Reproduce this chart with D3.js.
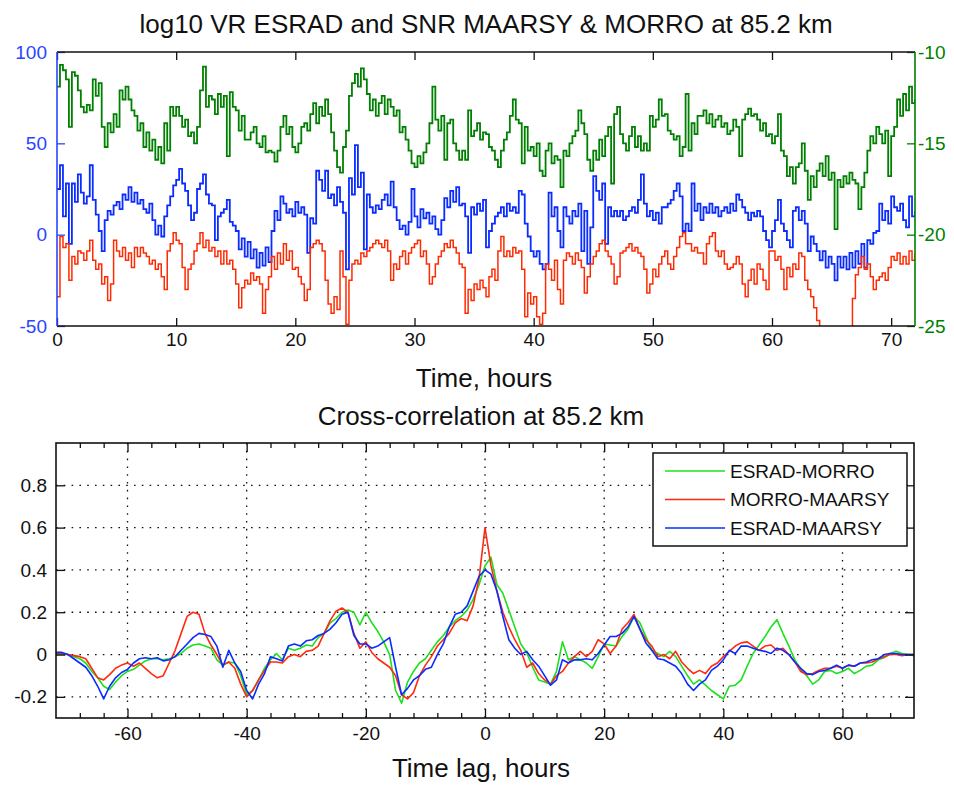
<!DOCTYPE html>
<html>
<head>
<meta charset="utf-8">
<script src="https://cdn.jsdelivr.net/npm/d3@7"></script>
<style>
  body { margin: 0; background: #fff; }
  svg { display: block; font-family: "Liberation Sans", Arial, sans-serif; }
</style>
</head>
<body>
<svg id="chart" width="954" height="787"></svg>
<script>
// ---- data: top panel, one sample every 15 minutes, 0..72 h ----
const timeStep = 0.25;

// blue series, left axis
const blueTop = [
  25, 38, 10, 28,  -5, 28, 18, 33,  23, 17, 21, 38,  19, 11, 2, -9,
  8, 13, 11, 16,  18, 14, 22, 19,  26, 18, 23, 17,  19, 14, 12, 17,
  8, 0, 5, -1,  10, 16, 21, 27,  30, 36, 28, 24,  16, 8, 12, 25,
  28, 33, 22, 17,  16, -3, 10, 12,  14, 19, 7, 5,  2, -8, -2, -12,
  -4, -13, -8, -18,  -10, -17, -7, -15,  2, 13, 8, 21,  17, 12, 14, 10,
  18, 12, 15, 11,  -10, 9, 6, 35,  30, 24, 35, 20,  22, 16, 26, 18,
  12, -19, 31, 22,  49, 26, 34, -8,  22, 15, 12, 16,  14, 19, 22, 16,
  29, 15, 8, 3,  5, 0, 7, 25,  10, 4, 14, 9,  12, 6, 10, 3,
  0, 8, 20, 15,  24, 18, 26, 16,  17, 10, -10, 15,  11, 17, 13, 19,
  -7, 2, 6, 10,  12, 15, 10, 17,  13, 15, 12, 24,  22, 6, -1, -9,
  -12, -9, -16, -19,  -16, 23, 10, 15,  2, -7, 15, 10,  6, 13, 10, 17,
  -9, 13, -16, 4,  32, 24, 19, 28,  -5, 15, 10, 13,  10, 13, 8, 10,
  13, 15, 12, 19,  33, 17, 10, 13,  8, 12, 6, 15,  15, 17, 19, 24,
  28, 21, 2, 6,  2, 28, 13, 17,  8, 15, 12, 17,  12, 15, 10, 13,
  15, 12, 17, 13,  22, 19, 15, 12,  8, 12, 10, 13,  10, 2, -3, -7,
  2, 8, 19, 6,  2, -3, -7, 13,  15, 8, 13, 6,  -9, -1, -5, -9,
  -14, -9, -18, -12,  -16, -25, -12, -18,  -12, -19, -10, -18,  -9, -16, -5, -18,
  -3, -5, 1, 2,  17, 8, 13, 6,  21, 15, 13, 17,  8, 4, 21, 10,
  13
];

// red series, left axis
const redTop = [
  -34, -1, -7, -5,  -25, -12, -16, -9,  -10, -14, -9, -3,  -14, -19, -16, -27,
  -23, -36, -27, -3,  -9, -12, -7, -14,  -10, -18, -7, -12,  -7, -10, -12, -16,
  -14, -19, -16, -23,  -30, -9, -5, 1,  -3, -5, -18, -30,  -19, -16, -9, -5,
  1, -7, -3, -9,  -7, -12, -9, -16,  -9, -16, -14, -19,  -27, -40, -29, -25,
  -27, -21, -25, -23,  -27, -43, -30, -23,  -12, -19, -10, -16,  -5, -14, -9, -19,
  -18, -23, -27, -36,  -30, -7, -5, -3,  -5, -9, -25, -38,  -43, -34, -41, -9,
  -23, -49, -25, -16,  -14, -16, -10, -12,  -9, -7, -5, -3,  -5, -7, -3, -9,
  -25, -16, -19, -12,  -9, -16, -10, -7,  -5, -3, -12, -9,  -16, -27, -23, -16,
  -12, -9, -5, -7,  -3, -7, -10, -16,  -18, -43, -30, -36,  -27, -30, -25, -29,
  -34, -23, -19, -25,  -9, -1, -12, -9,  -12, -7, -10, -9,  -19, -45, -32, -38,
  -34, -45, -49, -43,  -16, -19, -25, -14,  -30, -38, -14, -10,  -12, -16, -10, -14,
  -18, -32, -23, -16,  -12, -9, -5, -3,  -9, -12, -16, -27,  -23, -10, -9, -7,
  -5, -9, -7, -10,  -12, -19, -32, -27,  -19, -23, -16, -12,  -9, -16, -19, -12,
  -7, -1, 1, -5,  -5, -9, -7, -10,  -10, -16, -5, -1,  1, -9, -12, -9,
  -16, -19, -18, -16,  -12, -16, -27, -34,  -25, -19, -27, -16,  -19, -25, -30, -9,
  -9, -14, -12, -19,  -30, -18, -23, -16,  -19, -10, -12, -25,  -30, -34, -40, -47,
  -52, -56, -60, -58,  -61, -63, -60, -58,  -58, -60, -52, -35,  -22, -18, -12, -19,
  -16, -23, -30, -25,  -23, -21, -25, -18,  -12, -14, -10, -16,  -12, -16, -9, -14,
  -10
];

// green series, right axis (dB)
const greenTop = [
  -11.9, -10.7, -11.0, -11.5,  -14.1, -11.1, -11.3, -12.1,  -13.0, -13.3, -12.9, -13.2,  -11.5, -12.4, -11.7, -14.1,
  -15.2, -13.9, -14.4, -13.4,  -14.1, -12.1, -12.6, -11.9,  -12.6, -13.2, -13.5, -14.3,  -13.9, -15.2, -14.4, -15.4,
  -14.8, -15.9, -15.2, -16.1,  -13.9, -15.4, -13.0, -13.5,  -13.0, -13.5, -14.1, -13.7,  -14.6, -14.4, -15.0, -14.1,
  -12.1, -10.8, -13.0, -12.4,  -12.6, -13.4, -12.3, -13.0,  -12.4, -15.7, -12.2, -13.0,  -13.2, -14.3, -13.5, -14.8,
  -14.8, -14.4, -14.1, -15.0,  -15.2, -14.6, -15.5, -15.4,  -15.5, -16.0, -15.4, -14.1,  -13.5, -14.5, -14.1, -15.2,
  -15.5, -15.0, -14.1, -13.9,  -14.3, -13.4, -12.8, -13.9,  -13.0, -13.5, -12.6, -13.4,  -14.4, -15.4, -16.3, -16.6,
  -15.2, -14.3, -12.4, -11.7,  -11.2, -11.9, -10.9, -11.5,  -12.3, -13.2, -12.6, -13.5,  -12.8, -12.4, -13.4, -12.6,
  -13.0, -13.5, -13.2, -14.4,  -14.1, -14.8, -15.4, -16.1,  -16.3, -15.7, -16.1, -15.5,  -15.0, -13.9, -11.9, -13.7,
  -14.3, -13.5, -15.9, -13.9,  -13.7, -15.0, -15.4, -15.9,  -15.4, -15.9, -13.2, -14.6,  -14.3, -13.9, -14.8, -14.4,
  -14.5, -15.2, -15.4, -15.9,  -16.3, -15.4, -14.8, -14.4,  -13.5, -12.6, -13.7, -13.9,  -16.1, -14.1, -15.4, -15.2,
  -15.7, -15.0, -16.5, -16.8,  -15.4, -15.0, -16.1, -15.7,  -15.9, -17.4, -15.4, -15.7,  -15.0, -14.6, -14.3, -13.2,
  -13.9, -14.5, -15.9, -16.5,  -15.4, -15.9, -14.8, -15.7,  -14.6, -14.1, -17.2, -13.4,  -13.0, -14.5, -15.0, -15.4,
  -14.6, -14.1, -15.2, -14.6,  -15.4, -15.0, -15.4, -13.5,  -14.1, -13.7, -12.6, -13.5,  -13.4, -14.3, -14.5, -14.8,
  -14.6, -15.7, -15.2, -12.3,  -15.4, -13.9, -14.5, -13.5,  -13.5, -13.2, -13.9, -13.4,  -14.1, -13.7, -13.5, -14.1,
  -13.9, -14.5, -14.3, -13.7,  -14.1, -15.7, -13.7, -13.4,  -13.1, -13.5, -13.4, -13.7,  -14.3, -13.9, -14.6, -14.5,
  -15.0, -14.6, -13.4, -15.4,  -15.7, -16.8, -16.3, -17.2,  -16.3, -16.1, -15.0, -16.5,  -18.1, -16.8, -17.4, -16.5,
  -16.1, -16.8, -15.7, -17.0,  -16.6, -19.7, -17.0, -17.4,  -16.8, -17.2, -16.6, -17.0,  -17.2, -18.6, -17.4, -16.6,
  -15.4, -14.6, -15.0, -14.1,  -14.5, -15.0, -14.3, -16.8,  -14.6, -14.1, -12.6, -13.5,  -12.3, -13.2, -11.9, -12.8,
  -12.6
];

const topXTicks = [0, 10, 20, 30, 40, 50, 60, 70];
const leftTicks = [-50, 0, 50, 100];
const rightTicks = [-25, -20, -15, -10];

// ---- data: bottom panel, lag -72..72 h, one value per hour ----
const lagStart = -72;
const ccEsradMorro = [
  0.00, 0.00, 0.00, -0.01, -0.02, -0.04, -0.08, -0.11, -0.15, -0.165,
  -0.13, -0.10, -0.08, -0.07, -0.05, -0.03, -0.02, -0.02, -0.025, -0.02,
  -0.01, 0.005, 0.03, 0.045, 0.05, 0.04, 0.03, -0.025, -0.05, -0.035,
  -0.04, -0.10, -0.19, -0.17, -0.12, -0.065, -0.025, 0.005, -0.025, 0.03,
  0.02, 0.03, 0.045, 0.04, 0.08, 0.10, 0.15, 0.17, 0.20, 0.21,
  0.20, 0.14, 0.20, 0.15, 0.11, 0.06, 0.00, -0.17, -0.23, -0.13,
  -0.08, -0.04, -0.02, 0.02, 0.06, 0.09, 0.13, 0.16, 0.18, 0.21,
  0.26, 0.33, 0.42, 0.46, 0.33, 0.29, 0.21, 0.13, 0.05, 0.01,
  -0.06, -0.12, -0.13, -0.14, -0.08, 0.06, -0.025, -0.01, -0.025, -0.04,
  -0.065, -0.01, 0.05, 0.045, 0.04, 0.085, 0.12, 0.18, 0.15, 0.085,
  0.02, 0.005, -0.01, 0.015, -0.01, -0.055, -0.10, -0.14, -0.12, -0.145,
  -0.17, -0.19, -0.21, -0.15, -0.145, -0.12, -0.055, 0.005, 0.045, 0.085,
  0.13, 0.165, 0.10, 0.04, -0.025, -0.07, -0.10, -0.14, -0.12, -0.08,
  -0.075, -0.09, -0.08, -0.065, -0.09, -0.075, -0.055, -0.05, -0.025, -0.015,
  0.005, 0.015, 0.005, 0.00, -0.005
];
const ccMorroMaarsy = [
  0.005, 0.005, 0.00, -0.005, -0.01, -0.02, -0.065, -0.11, -0.12, -0.095,
  -0.065, -0.05, -0.04, -0.055, -0.04, -0.065, -0.09, -0.11, -0.10, -0.04,
  0.02, 0.10, 0.18, 0.20, 0.19, 0.10, 0.045, 0.00, -0.05, -0.035,
  -0.065, -0.14, -0.20, -0.17, -0.12, -0.075, -0.035, -0.035, -0.04, -0.01,
  0.00, -0.01, 0.015, 0.02, 0.04, 0.10, 0.16, 0.205, 0.22, 0.20,
  0.10, 0.03, 0.06, 0.01, -0.02, -0.04, -0.06, -0.10, -0.19, -0.21,
  -0.18, -0.10, -0.05, -0.01, 0.04, 0.07, 0.10, 0.15, 0.17, 0.16,
  0.23, 0.36, 0.60, 0.42, 0.30, 0.20, 0.13, 0.07, 0.02, -0.06,
  -0.04, -0.09, -0.12, -0.14, -0.10, -0.08, -0.04, -0.01, 0.015, -0.01,
  0.015, 0.07, 0.05, 0.005, 0.04, 0.12, 0.15, 0.19, 0.12, 0.07,
  0.04, -0.01, 0.00, -0.02, 0.015, -0.035, -0.065, -0.09, -0.075, -0.09,
  -0.055, -0.04, -0.01, 0.015, 0.04, 0.055, 0.06, 0.04, 0.02, 0.04,
  0.045, 0.02, 0.03, 0.00, -0.035, -0.08, -0.095, -0.09, -0.075, -0.065,
  -0.065, -0.055, -0.065, -0.05, -0.055, -0.04, -0.04, -0.035, -0.02, -0.01,
  0.00, 0.00, -0.005, 0.00, 0.00
];
const ccEsradMaarsy = [
  0.01, 0.01, 0.00, -0.02, -0.04, -0.06, -0.10, -0.15, -0.21, -0.15,
  -0.11, -0.085, -0.07, -0.04, -0.02, -0.015, -0.02, -0.015, -0.03, -0.025,
  -0.01, 0.02, 0.05, 0.08, 0.10, 0.095, 0.085, 0.04, -0.06, 0.02,
  -0.04, -0.08, -0.17, -0.21, -0.14, -0.09, -0.01, -0.02, -0.03, 0.04,
  0.05, 0.04, 0.065, 0.07, 0.09, 0.10, 0.12, 0.15, 0.19, 0.20,
  0.09, 0.05, 0.05, 0.03, 0.04, 0.06, 0.08, -0.06, -0.19, -0.16,
  -0.12, -0.10, -0.07, -0.06, 0.00, 0.05, 0.13, 0.19, 0.20, 0.23,
  0.30, 0.37, 0.40, 0.38, 0.30, 0.18, 0.07, 0.03, 0.00, 0.015,
  -0.025, -0.055, -0.10, -0.145, -0.12, -0.025, -0.04, -0.025, -0.025, -0.02,
  -0.025, 0.005, 0.045, 0.085, 0.085, 0.10, 0.13, 0.18, 0.12, 0.055,
  0.02, -0.02, -0.025, -0.04, -0.055, -0.09, -0.14, -0.17, -0.14, -0.12,
  -0.075, -0.055, -0.025, 0.02, 0.005, 0.04, 0.04, 0.03, 0.02, 0.015,
  0.005, 0.03, 0.02, 0.00, -0.035, -0.065, -0.09, -0.095, -0.08, -0.075,
  -0.065, -0.05, -0.065, -0.05, -0.055, -0.04, -0.035, -0.025, -0.02, 0.00,
  0.005, 0.005, 0.00, 0.00, 0.00
];

const ccXTicks = [-60, -40, -20, 0, 20, 40, 60];
const ccYTicks = [-0.2, 0, 0.2, 0.4, 0.6, 0.8];
const ccLegend = ['ESRAD-MORRO', 'MORRO-MAARSY', 'ESRAD-MAARSY'];

const blueCol = '#0a2cff', redCol = '#ff2a00', darkGreen = '#008000';
const ccColors = ['#1ee01e', '#ff2a10', '#0a2cff'];

const svg = d3.select('#chart');

function styleAxis(g, color, size) {
  g.selectAll('.domain').remove();
  g.selectAll('.tick line').attr('stroke', color).attr('stroke-width', 1.3);
  g.selectAll('.tick text').attr('fill', color).attr('font-size', size);
}

function renderTopPanel() {
  const box = {left: 57, right: 915, top: 52, bottom: 326};
  const x = d3.scaleLinear().domain([0, 72]).range([box.left, box.right]);
  const yL = d3.scaleLinear().domain([-50, 100]).range([box.bottom, box.top]);
  const yR = d3.scaleLinear().domain([-25, -10]).range([box.bottom, box.top]);

  svg.append('clipPath').attr('id', 'clipTop')
    .append('rect')
    .attr('x', box.left).attr('y', box.top)
    .attr('width', box.right - box.left).attr('height', box.bottom - box.top);

  const lineL = d3.line().x((d, i) => x(i * timeStep)).y(d => yL(d)).curve(d3.curveStepAfter);
  const lineR = d3.line().x((d, i) => x(i * timeStep)).y(d => yR(d)).curve(d3.curveStepAfter);

  const plot = svg.append('g').attr('clip-path', 'url(#clipTop)');
  plot.append('path').datum(blueTop).attr('d', lineL)
    .attr('fill', 'none').attr('stroke', blueCol).attr('stroke-width', 1.8);
  plot.append('path').datum(redTop).attr('d', lineL)
    .attr('fill', 'none').attr('stroke', redCol).attr('stroke-width', 1.5);
  plot.append('path').datum(greenTop).attr('d', lineR)
    .attr('fill', 'none').attr('stroke', darkGreen).attr('stroke-width', 1.8);

  // Axes (ticks point inward)
  svg.append('g').attr('transform', `translate(0,${box.bottom})`)
    .call(d3.axisBottom(x).tickValues(topXTicks).tickSize(-8).tickPadding(7).tickFormat(String))
    .call(g => styleAxis(g, '#111', '19px'));
  svg.append('g').attr('transform', `translate(0,${box.top})`)
    .call(d3.axisTop(x).tickValues(topXTicks).tickSize(-8).tickFormat(''))
    .call(g => styleAxis(g, '#111', '19px'));
  svg.append('g').attr('transform', `translate(${box.left},0)`)
    .call(d3.axisLeft(yL).tickValues(leftTicks).tickSize(-8).tickPadding(10).tickFormat(String))
    .call(g => styleAxis(g, '#2a45ff', '19px'));
  svg.append('g').attr('transform', `translate(${box.right},0)`)
    .call(d3.axisRight(yR).tickValues(rightTicks).tickSize(-8).tickPadding(3).tickFormat(String))
    .call(g => styleAxis(g, darkGreen, '19px'));

  // Frame
  const frame = svg.append('g').attr('stroke-width', 1.6).attr('fill', 'none');
  frame.append('line').attr('x1', box.left).attr('x2', box.right).attr('y1', box.top).attr('y2', box.top).attr('stroke', '#111');
  frame.append('line').attr('x1', box.left).attr('x2', box.right).attr('y1', box.bottom).attr('y2', box.bottom).attr('stroke', '#111');
  frame.append('line').attr('x1', box.left).attr('x2', box.left).attr('y1', box.top).attr('y2', box.bottom).attr('stroke', '#2a45ff');
  frame.append('line').attr('x1', box.right).attr('x2', box.right).attr('y1', box.top).attr('y2', box.bottom).attr('stroke', darkGreen);

  svg.append('text').attr('x', 486).attr('y', 33).attr('text-anchor', 'middle')
    .attr('font-size', '26px').attr('fill', '#111')
    .text('log10 VR ESRAD and SNR MAARSY & MORRO at 85.2 km');
  svg.append('text').attr('x', 484).attr('y', 387).attr('text-anchor', 'middle')
    .attr('font-size', '26px').attr('fill', '#111')
    .text('Time, hours');
}

function renderBottomPanel() {
  const box = {left: 56, right: 914, top: 443, bottom: 718};
  const x = d3.scaleLinear().domain([-72, 72]).range([box.left, box.right]);
  const y = d3.scaleLinear().domain([-0.3, 1.0]).range([box.bottom, box.top]);
  const minorTicks = d3.range(-68, 72, 4).filter(v => v % 20 !== 0);

  // Grid lines (dotted)
  const grid = svg.append('g').attr('stroke', '#111').attr('stroke-width', 1.3).attr('stroke-dasharray', '1.6,6.2');
  grid.selectAll('.vg').data(ccXTicks).enter().append('line')
    .attr('x1', d => x(d)).attr('x2', d => x(d)).attr('y1', box.top).attr('y2', box.bottom);
  grid.selectAll('.hg').data(ccYTicks).enter().append('line')
    .attr('x1', box.left).attr('x2', box.right).attr('y1', d => y(d)).attr('y2', d => y(d));

  // Lines
  const line = d3.line().x((d, i) => x(lagStart + i)).y(d => y(d));
  [ccEsradMorro, ccMorroMaarsy, ccEsradMaarsy].forEach((s, k) => {
    svg.append('path').datum(s).attr('d', line)
      .attr('fill', 'none').attr('stroke', ccColors[k]).attr('stroke-width', 1.6)
      .attr('stroke-linejoin', 'round');
  });

  // Axes
  svg.append('g').attr('transform', `translate(0,${box.bottom})`)
    .call(d3.axisBottom(x).tickValues(ccXTicks).tickSize(-9).tickPadding(9).tickFormat(String))
    .call(g => styleAxis(g, '#111', '19px'));
  svg.append('g').attr('transform', `translate(0,${box.bottom})`)
    .call(d3.axisBottom(x).tickValues(minorTicks).tickSize(-5).tickFormat(''))
    .call(g => styleAxis(g, '#111', '19px'));
  svg.append('g').attr('transform', `translate(0,${box.top})`)
    .call(d3.axisTop(x).tickValues(ccXTicks).tickSize(-9).tickFormat(''))
    .call(g => styleAxis(g, '#111', '19px'));
  svg.append('g').attr('transform', `translate(0,${box.top})`)
    .call(d3.axisTop(x).tickValues(minorTicks).tickSize(-5).tickFormat(''))
    .call(g => styleAxis(g, '#111', '19px'));
  svg.append('g').attr('transform', `translate(${box.left},0)`)
    .call(d3.axisLeft(y).tickValues(ccYTicks).tickSize(-9).tickPadding(9).tickFormat(d => String(+d.toFixed(1))))
    .call(g => styleAxis(g, '#111', '19px'));
  svg.append('g').attr('transform', `translate(${box.right},0)`)
    .call(d3.axisRight(y).tickValues(ccYTicks).tickSize(-9).tickFormat(''))
    .call(g => styleAxis(g, '#111', '19px'));

  svg.append('rect').attr('x', box.left).attr('y', box.top)
    .attr('width', box.right - box.left).attr('height', box.bottom - box.top)
    .attr('fill', 'none').attr('stroke', '#111').attr('stroke-width', 1.6);

  // Legend
  const lg = svg.append('g').attr('transform', 'translate(653,453)');
  lg.append('rect').attr('width', 254).attr('height', 93)
    .attr('fill', '#fff').attr('stroke', '#111').attr('stroke-width', 1.5);
  ccLegend.forEach((name, k) => {
    const ly = 18 + k * 28.5;
    lg.append('line').attr('x1', 12).attr('x2', 72).attr('y1', ly).attr('y2', ly)
      .attr('stroke', ccColors[k]).attr('stroke-width', 1.6);
    lg.append('text').attr('x', 77).attr('y', ly).attr('dy', '0.35em')
      .attr('font-size', '19px').attr('fill', '#111').text(name);
  });

  svg.append('text').attr('x', 481).attr('y', 425).attr('text-anchor', 'middle')
    .attr('font-size', '26px').attr('fill', '#111')
    .text('Cross-correlation at 85.2 km');
  svg.append('text').attr('x', 481).attr('y', 777).attr('text-anchor', 'middle')
    .attr('font-size', '26px').attr('fill', '#111')
    .text('Time lag, hours');
}

renderTopPanel();
renderBottomPanel();
</script>
</body>
</html>
